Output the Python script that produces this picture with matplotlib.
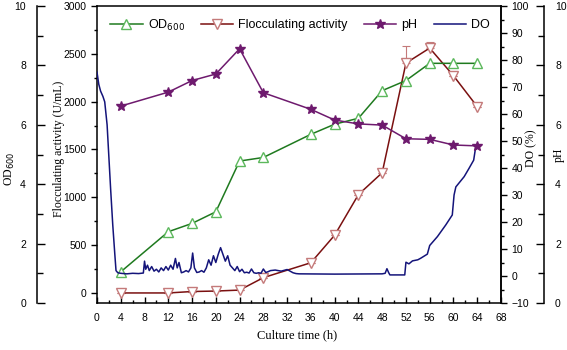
import matplotlib
matplotlib.use("Agg")
import matplotlib.pyplot as plt
from matplotlib.ticker import MultipleLocator

# sampling times (h)
t_pts = [4, 12, 16, 20, 24, 28, 36, 40, 44, 48, 52, 56, 60, 64]
od600 = [1.05, 2.4, 2.68, 3.07, 4.78, 4.9, 5.68, 6.02, 6.22, 7.15, 7.49, 8.07, 8.07, 8.07]
floc = [0, 0, 15, 20, 30, 160, 316, 604, 1028, 1257, 2403, 2560, 2271, 1948]
floc_err = [0, 0, 0, 0, 0, 0, 0, 0, 0, 0, 180, 60, 0, 0]
ph = [6.63, 7.1, 7.49, 7.71, 8.56, 7.08, 6.52, 6.16, 6.03, 5.99, 5.53, 5.51, 5.32, 5.29]

# online DO trace
do_t = [0, 0.3, 0.6, 1.0, 1.3, 1.7, 2.0, 2.3, 2.65, 3.0, 3.2, 3.5, 4, 5, 6, 7, 7.8,
        8.0, 8.2, 8.5, 8.8, 9.2, 9.6, 10, 10.4, 10.8, 11.2, 11.6, 12, 12.4, 12.8,
        13.2, 13.5, 13.8, 14.2, 14.6, 15, 15.4, 15.8, 16.1, 16.4, 16.8, 17.2, 17.6,
        18, 18.4, 18.8, 19.2, 19.6, 20, 20.4, 20.8, 21.2, 21.6, 22, 22.4, 22.8, 23.2,
        23.6, 24, 24.4, 24.8, 25.2, 25.6, 26, 26.4, 26.8, 27.2, 27.6, 28, 28.4, 28.8,
        29.2, 30, 31, 32, 33, 33.5, 34, 40, 48, 48.5, 48.8, 49.1, 49.3, 51.8, 52,
        52.5, 53.1, 54, 54.5, 55.6, 56, 57.3, 58.7, 59.8, 60.1, 60.4, 61.8, 62.6,
        63.4, 63.7, 64]
do_v = [75.5, 71, 68.5, 66.5, 64.5, 56, 44, 32, 19, 8, 2.0, 1.2, 1.0, 0.8, 1.0, 0.9, 1.1,
        5.5, 2.5, 4, 2.0, 3.5, 1.8, 2.5, 1.5, 3, 2.0, 3.5, 2.2, 4, 2.5,
        6.5, 3, 5, 1.2, 1.5, 2, 1.5, 3, 8.5, 3, 1.3, 1.5, 2,
        1.4, 3, 6, 4, 7.5, 5, 8, 10.5, 8, 5.5, 7.5, 4, 3, 2,
        3.5, 1.6, 2.5, 1.2, 1.4, 1.1, 2.6, 1.2, 1.0, 1.2, 1.0, 2.6, 1.3, 1.6,
        2.0, 2.2, 1.8, 2.4, 1.2, 0.9, 0.8, 0.7, 0.8, 1.0, 2.7, 1.2, 0.4, 0.4, 5.1,
        4.5, 5.6, 6.0, 6.6, 8.1, 11.3, 14.6, 18.9, 22.6, 30, 33, 36.8, 39.8,
        42.9, 47.2, 48.4]

sans = ['Liberation Sans', 'DejaVu Sans']
serif = ['Liberation Serif', 'DejaVu Serif']
plt.rcParams['font.family'] = sans
plt.rcParams['font.size'] = 7.5
plt.rcParams['axes.linewidth'] = 1.1

green = '#1f7a1f'
green_m = '#5cb85c'
brown = '#7a1010'
brown_m = '#c47a7a'
purple = '#6e1a6e'
navy = '#14147a'

fig = plt.figure(figsize=(5.67, 3.5), dpi=100)
ax = fig.add_axes([97 / 567, 1 - 303 / 350, 404 / 567, 297 / 350])

ax_od = ax.twinx()
ax_do = ax.twinx()
ax_ph = ax.twinx()

# flocculating activity on host axis
ax.errorbar(t_pts, floc, yerr=[[0] * len(floc_err), floc_err], fmt='none',
            ecolor=brown_m, elinewidth=0.8, capsize=3, capthick=0.8)
l_fa, = ax.plot(t_pts, floc, '-', color=brown, lw=1.1, marker='v', ms=7,
                mfc='white', mec=brown_m, mew=1.0, label='Flocculating activity')
ax.set_xlim(0, 68)
ax.set_ylim(-105, 3000)
ax.set_yticks(range(0, 3001, 500))
ax.yaxis.set_minor_locator(MultipleLocator(250))
ax.xaxis.set_major_locator(MultipleLocator(4))
ax.xaxis.set_minor_locator(MultipleLocator(2))
ax.tick_params(axis='y', which='major', direction='out', length=4, width=1)
ax.tick_params(axis='y', which='minor', direction='out', length=2.5, width=1)
ax.tick_params(axis='x', which='major', direction='in', length=4, width=1, pad=7)
ax.tick_params(axis='x', which='minor', direction='in', length=2.5, width=1)
ax.set_ylabel('Flocculating activity (U/mL)', family=serif, fontsize=8.5)
ax.yaxis.set_label_coords(-0.079, 0.52)
ax.set_xlabel('Culture time (h)', family=serif, fontsize=9)
ax.xaxis.set_label_coords(0.496, -0.09)

# OD600 outer left axis
l_od, = ax_od.plot(t_pts, od600, '-', color=green, lw=1.1, marker='^', ms=7,
                   mfc='white', mec=green_m, mew=1.0, label='OD$_{600}$')
ax_od.set_ylim(0, 10)
ax_od.yaxis.set_ticks_position('left')
ax_od.yaxis.set_label_position('left')
for s in ['right', 'top', 'bottom']:
    ax_od.spines[s].set_visible(False)
ax_od.spines['left'].set_position(('axes', -60 / 404))
ax_od.set_yticks(range(0, 11, 2))
ax_od.yaxis.set_minor_locator(MultipleLocator(1))
ax_od.tick_params(axis='y', which='major', direction='in', length=6, width=1, pad=8)
ax_od.tick_params(axis='y', which='minor', direction='in', length=4, width=1)
ax_od.set_ylabel('OD$_{600}$', family=serif, fontsize=8.5)
ax_od.yaxis.set_label_coords(-0.198, 0.45)

# DO inner right axis
l_do, = ax_do.plot(do_t, do_v, '-', color=navy, lw=1.1, label='DO')
ax_do.set_ylim(-10, 100)
ax_do.set_yticks(range(-10, 101, 10))
ax_do.yaxis.set_minor_locator(MultipleLocator(5))
for s in ['left', 'top', 'bottom']:
    ax_do.spines[s].set_visible(False)
ax_do.tick_params(axis='y', which='major', direction='out', length=4, width=1)
ax_do.tick_params(axis='y', which='minor', direction='out', length=2.5, width=1)
ax_do.set_ylabel('DO (%)', family=serif, fontsize=8.5)
ax_do.yaxis.set_label_coords(1.059, 0.52)

# pH outer right axis
l_ph, = ax_ph.plot(t_pts, ph, '-', color=purple, lw=1.1, marker='*', ms=7.5,
                   mfc=purple, mec=purple, label='pH')
ax_ph.set_ylim(0, 10)
for s in ['left', 'top', 'bottom']:
    ax_ph.spines[s].set_visible(False)
ax_ph.spines['right'].set_position(('axes', 1 + 43 / 404))
ax_ph.set_yticks(range(0, 11, 2))
ax_ph.yaxis.set_minor_locator(MultipleLocator(1))
ax_ph.tick_params(axis='y', which='major', direction='in', length=6, width=1, pad=8)
ax_ph.tick_params(axis='y', which='minor', direction='in', length=4, width=1)
ax_ph.set_ylabel('pH', family=serif, fontsize=8.5)
ax_ph.yaxis.set_label_coords(1.128, 0.5)

leg = ax_ph.legend([l_od, l_fa, l_ph, l_do], ['OD$_{600}$', 'Flocculating activity', 'pH', 'DO'],
                   loc='center left', bbox_to_anchor=(13 / 404, 0.936), ncol=4,
                   frameon=False, fontsize=9, borderpad=0, borderaxespad=0,
                   handlelength=2.6, handletextpad=0.4, columnspacing=1.3)

plt.savefig('out.png', dpi=100)
